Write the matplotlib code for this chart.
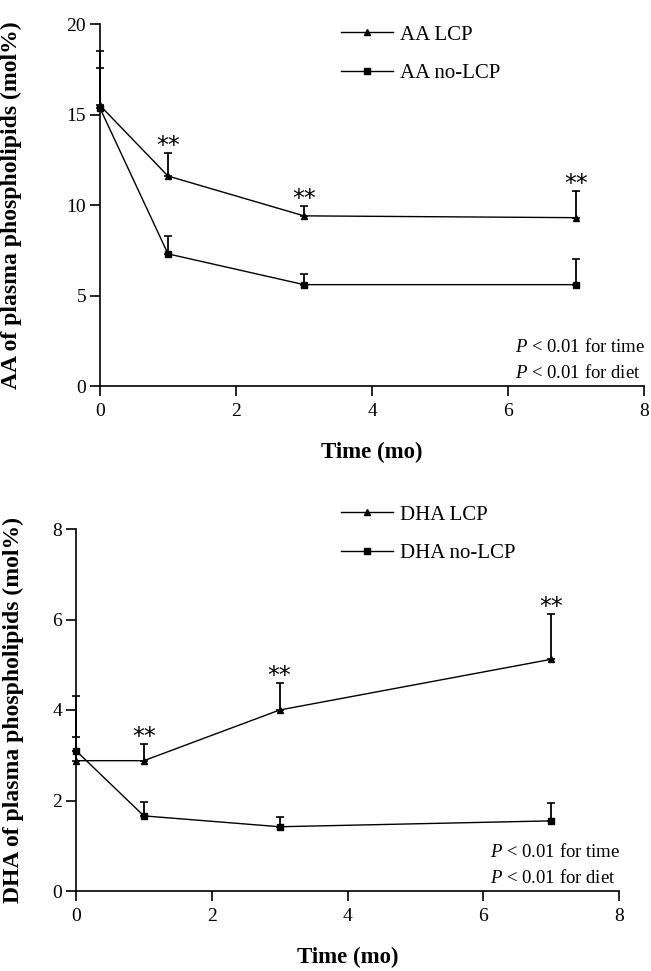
import numpy as np
import matplotlib
matplotlib.use('Agg')
import matplotlib.pyplot as plt

# data
months = [0, 1, 3, 7]

aa_lcp = [15.5, 11.6, 9.4, 9.3]
aa_lcp_err = [3.0, 1.25, 0.56, 1.5]
aa_nolcp = [15.35, 7.3, 5.6, 5.6]
aa_nolcp_err = [2.2, 1.0, 0.57, 1.4]

dha_lcp = [2.88, 2.88, 4.0, 5.12]
dha_lcp_err = [0.53, 0.36, 0.6, 1.01]
dha_nolcp = [3.1, 1.66, 1.42, 1.55]
dha_nolcp_err = [1.22, 0.31, 0.22, 0.40]

sig_months = [1, 3, 7]

plt.rcParams['font.family'] = 'Liberation Serif'
plt.rcParams['mathtext.fontset'] = 'custom'
plt.rcParams['mathtext.rm'] = 'Liberation Serif'
plt.rcParams['mathtext.it'] = 'Liberation Serif:italic'

FIG_W, FIG_H = 651, 971


def panel(fig, rect, lcp, lcp_err, nolcp, nolcp_err, names, ymax, yticks,
          ylabel, ylab_x, xlab_y, leg_anchor):
    ax = fig.add_axes(rect)
    zeros = np.zeros(len(months))

    handles = []
    for vals, errs, mk, name in [(lcp, lcp_err, '^', names[0]),
                                 (nolcp, nolcp_err, 's', names[1])]:
        # one-sided (upper) error bars, kept out of the legend
        ax.errorbar(months, vals, yerr=[zeros, errs], fmt='none',
                    ecolor='black', elinewidth=1.3, capsize=3, capthick=1.2,
                    clip_on=False, zorder=3)
        line, = ax.plot(months, vals, color='black', lw=1.0, marker=mk,
                        markersize=5, label=name, clip_on=False, zorder=4)
        handles.append(line)

    # significance stars above the LCP error bars
    for m in sig_months:
        i = months.index(m)
        ax.annotate('**', xy=(m, lcp[i] + lcp_err[i]), xytext=(0, 0),
                    textcoords='offset points', ha='center', va='baseline',
                    fontsize=17, family='DejaVu Sans')

    ax.set_xlim(0, 8)
    ax.set_ylim(0, ymax)
    ax.set_xticks([0, 2, 4, 6, 8])
    ax.set_yticks(yticks)
    for s in ['top', 'right']:
        ax.spines[s].set_visible(False)
    for s in ['left', 'bottom']:
        ax.spines[s].set_linewidth(1.2)
    ax.tick_params(direction='out', length=7, width=1.2, labelsize=14)
    ax.tick_params(axis='x', pad=5)
    ax.tick_params(axis='y', pad=3)

    ax.text(0.762, 0.108, '$\\it{P}$ < 0.01 for time', transform=ax.transAxes,
            fontsize=13.5, va='center', ha='left')
    ax.text(0.762, 0.035, '$\\it{P}$ < 0.01 for diet', transform=ax.transAxes,
            fontsize=13.5, va='center', ha='left')

    ax.set_xlabel('Time (mo)', fontsize=16.5, fontweight='bold')
    ax.xaxis.set_label_coords(0.5, xlab_y)
    ax.set_ylabel(ylabel, fontsize=17, fontweight='bold')
    ax.yaxis.set_label_coords(ylab_x, 0.5)

    ax.legend(handles=handles, loc='upper left', bbox_to_anchor=leg_anchor,
              bbox_transform=fig.transFigure, frameon=False, fontsize=15,
              numpoints=1, handlelength=2.5, handletextpad=0.35,
              labelspacing=0.9, borderpad=0, borderaxespad=0)
    return ax


fig = plt.figure(figsize=(FIG_W / 100, FIG_H / 100), dpi=100)

panel(fig, [100 / FIG_W, (FIG_H - 386) / FIG_H, 544 / FIG_W, 362 / FIG_H],
      aa_lcp, aa_lcp_err, aa_nolcp, aa_nolcp_err, ['AA LCP', 'AA no-LCP'],
      20, [0, 5, 10, 15, 20], 'AA of plasma phospholipids (mol%)',
      -0.143, -0.155, (341 / FIG_W, 1 - 25 / FIG_H))

panel(fig, [76 / FIG_W, (FIG_H - 891) / FIG_H, 543 / FIG_W, 362 / FIG_H],
      dha_lcp, dha_lcp_err, dha_nolcp, dha_nolcp_err,
      ['DHA LCP', 'DHA no-LCP'],
      8, [0, 2, 4, 6, 8], 'DHA of plasma phospholipids (mol%)',
      -0.096, -0.155, (341 / FIG_W, 1 - 505 / FIG_H))

fig.savefig('out.png', dpi=100)
